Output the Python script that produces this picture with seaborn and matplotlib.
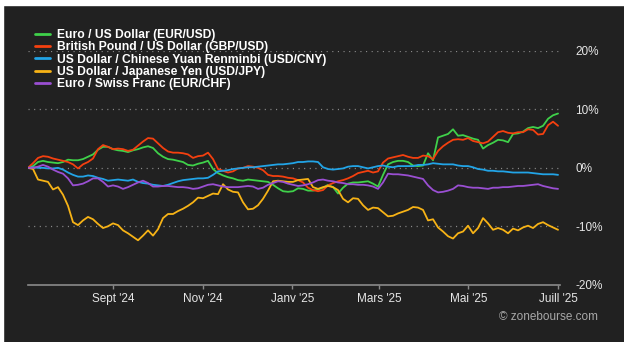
import numpy as np
import pandas as pd
import matplotlib
matplotlib.use("Agg")
import matplotlib.pyplot as plt
import matplotlib.dates as mdates
from matplotlib.lines import Line2D
from matplotlib.patches import Rectangle
import seaborn as sns

# ---------------- data (% change since start) ----------------
start_date = "2024-07-05"
end_date = "2025-07-01"

labels = [
    "Euro / US Dollar (EUR/USD)",
    "British Pound / US Dollar (GBP/USD)",
    "US Dollar / Chinese Yuan Renminbi (USD/CNY)",
    "US Dollar / Japanese Yen (USD/JPY)",
    "Euro / Swiss Franc (EUR/CHF)",
]
colors = ["#3fd14a", "#f5400f", "#22a4e6", "#f7b316", "#9a4fd2"]

eur_usd = [0.0, 0.3, 1.0, 1.2, 1.0, 0.9, 0.8, 1.0, 1.4, 1.3, 1.3, 1.5, 1.9, 2.3, 3.1, 3.6, 3.6, 3.2, 3.0, 2.9,
           2.7, 3.0, 3.2, 3.5, 3.7, 3.4, 2.5, 1.9, 1.5, 1.4, 1.2, 1.0, 0.5, 0.4, 0.7, 0.9, 1.2, -0.2, -0.9, -1.3,
           -1.6, -1.8, -2.1, -2.2, -2.0, -2.1, -2.2, -2.3, -2.4, -2.9, -3.5, -4.0, -4.1, -4.0, -3.5, -3.6, -3.9, -3.9, -3.7, -3.4,
           -2.9, -3.3, -4.4, -3.4, -2.7, -2.5, -2.5, -2.4, -2.3, -2.7, -3.2, -1.2, 0.6, 1.0, 1.2, 1.2, 1.0, 0.4, 0.3, 0.4,
           2.5, 1.3, 5.2, 5.5, 5.8, 6.6, 5.5, 5.6, 5.3, 5.0, 4.8, 3.3, 3.9, 4.3, 4.8, 4.7, 4.4, 5.8, 5.9, 6.2,
           6.8, 7.0, 6.8, 7.2, 8.4, 9.0, 9.3]

gbp_usd = [0.0, 0.8, 1.7, 2.0, 1.9, 1.6, 1.4, 1.2, 1.0, 0.6, -0.1, 0.6, 1.0, 1.6, 3.2, 3.9, 3.6, 3.2, 3.3, 3.2,
           2.9, 3.1, 3.8, 4.5, 5.1, 5.0, 4.2, 3.4, 2.8, 2.6, 2.6, 2.5, 2.3, 1.7, 2.0, 2.1, 2.6, 1.5, -0.2, -0.5,
           -0.8, -0.6, -0.1, 0.0, 0.3, 0.2, 0.0, -0.4, -1.2, -1.4, -1.4, -1.5, -1.7, -1.8, -2.1, -2.5, -3.4, -3.8, -4.0, -3.8,
           -3.0, -2.6, -2.3, -2.1, -1.8, -1.4, -0.9, -0.7, -0.5, -0.8, -0.6, 0.9, 1.6, 1.8, 2.0, 2.2, 1.9, 1.7, 1.7, 2.1,
           2.0, 1.5, 2.9, 3.7, 4.3, 4.8, 4.9, 4.8, 5.1, 4.6, 4.4, 4.2, 4.5, 5.3, 6.1, 6.3, 6.0, 5.9, 6.1, 6.1,
           6.6, 6.5, 5.7, 5.8, 7.3, 7.9, 7.2]

usd_cny = [0.0, 0.1, 0.0, 0.0, -0.1, -0.1, 0.0, -0.3, -0.8, -1.2, -1.5, -1.5, -1.3, -1.4, -1.7, -1.9, -2.2, -2.1, -2.0, -2.1,
           -2.2, -2.0, -2.4, -2.6, -2.7, -2.9, -3.0, -3.1, -2.9, -2.6, -2.3, -2.1, -2.0, -1.9, -1.8, -1.8, -1.7, -1.2, -0.6, -0.5,
           -0.4, -0.2, -0.1, 0.0, 0.1, 0.1, 0.2, 0.3, 0.4, 0.5, 0.6, 0.6, 0.7, 0.8, 1.0, 1.0, 1.1, 1.1, 1.0, 0.1,
           -0.2, -0.3, -0.2, -0.1, 0.2, 0.3, 0.3, 0.1, -0.1, 0.1, 0.3, 0.4, 0.2, 0.1, 0.3, 0.3, 0.3, 0.3, 0.5, 0.5,
           0.6, 0.8, 0.7, 0.6, 0.6, 0.6, 0.4, 0.3, 0.3, 0.1, -0.2, -0.3, -0.5, -0.5, -0.6, -0.6, -0.7, -0.8, -0.8, -0.8,
           -0.8, -0.9, -1.0, -1.1, -1.1, -1.1, -1.2]

usd_jpy = [0.0, -0.2, -2.0, -2.2, -2.4, -3.7, -3.3, -4.6, -6.5, -9.3, -9.8, -9.0, -8.4, -8.8, -9.6, -10.3, -10.0, -9.5, -9.8, -10.7,
           -11.2, -11.8, -12.4, -11.6, -10.7, -11.6, -10.5, -8.6, -7.9, -7.9, -7.4, -7.0, -6.5, -5.9, -5.1, -5.2, -4.8, -4.4, -4.5, -2.8,
           -3.7, -4.1, -4.2, -5.9, -7.1, -7.0, -6.4, -5.3, -3.9, -2.3, -2.2, -2.3, -2.4, -2.4, -2.1, -2.0, -1.9, -3.3, -3.6, -3.3,
           -3.1, -3.3, -3.8, -5.3, -5.9, -5.2, -5.3, -6.4, -7.2, -6.8, -6.9, -7.6, -8.3, -8.2, -7.8, -7.5, -7.2, -6.7, -6.8, -7.2,
           -9.0, -8.8, -10.2, -10.9, -11.7, -12.1, -11.2, -10.9, -9.9, -11.2, -10.3, -8.6, -9.5, -10.6, -10.3, -10.6, -11.2, -10.4, -10.7, -10.2,
           -9.9, -10.3, -9.6, -9.3, -9.8, -10.2, -10.6]

eur_chf = [0.0, 0.0, 0.2, 0.5, 0.2, -0.3, -0.7, -1.0, -1.8, -3.0, -2.9, -2.7, -2.3, -1.8, -1.8, -2.4, -3.2, -3.0, -3.2, -3.6,
           -3.3, -2.9, -2.5, -2.2, -2.6, -3.2, -3.2, -3.1, -3.1, -3.2, -3.3, -3.3, -3.4, -3.6, -3.5, -3.2, -2.9, -2.8, -3.0, -3.2,
           -3.3, -3.3, -3.3, -3.2, -3.1, -3.2, -3.6, -3.4, -2.9, -2.6, -2.3, -2.4, -2.7, -2.9, -3.1, -3.0, -2.8, -2.5, -2.1, -2.0,
           -2.2, -2.3, -2.5, -2.6, -2.8, -2.8, -2.9, -2.9, -3.0, -3.2, -3.6, -2.5, -1.0, -1.1, -1.1, -1.2, -1.3, -1.5, -1.7, -1.9,
           -3.0, -3.8, -4.2, -4.1, -3.9, -3.6, -3.0, -3.1, -3.3, -3.4, -3.4, -3.5, -3.6, -3.4, -3.4, -3.3, -3.3, -3.2, -3.1, -3.1,
           -3.0, -2.9, -2.8, -3.1, -3.3, -3.5, -3.6]

y_ticks = [-20, -10, 0, 10, 20]
y_tick_labels = ["-20%", "-10%", "0%", "10%", "20%"]
x_tick_dates = ["2024-09-01", "2024-11-01", "2025-01-01", "2025-03-01", "2025-05-01", "2025-07-01"]
x_tick_labels = ["Sept '24", "Nov '24", "Janv '25", "Mars '25", "Mai '25", "Juill '25"]
credit = "\u00a9 zonebourse.com"

# ---------------- build table ----------------
series = [eur_usd, gbp_usd, usd_cny, usd_jpy, eur_chf]
n = len(eur_usd)
assert all(len(s) == n for s in series), [len(s) for s in series]
dates = pd.date_range(start_date, end_date, periods=n)
df = pd.concat(
    [pd.DataFrame({"date": dates, "pct": vals, "pair": lab}) for lab, vals in zip(labels, series)],
    ignore_index=True,
)

# ---------------- style ----------------
BG = "#212121"
sns.set_theme(style="dark")
plt.rcParams["font.family"] = ["Liberation Sans", "DejaVu Sans"]

W, H = 624, 342
fig = plt.figure(figsize=(W / 100, H / 100), dpi=100, facecolor=BG)
# thin white margins on top and left, as in the reference
fig.patches.append(Rectangle((0, 1 - 5 / H), 1, 5 / H, transform=fig.transFigure, color="white", zorder=-1))
fig.patches.append(Rectangle((0, 0), 3 / W, 1, transform=fig.transFigure, color="white", zorder=-1))

left, right = 28 / W, 560 / W
top, bottom = 1 - 51 / H, 1 - 284.7 / H
ax = fig.add_axes([left, bottom, right - left, top - bottom])
ax.set_facecolor(BG)

sns.lineplot(data=df, x="date", y="pct", hue="pair", hue_order=labels,
             palette=dict(zip(labels, colors)), linewidth=1.3, legend=False, ax=ax)

ax.set_ylim(-20, 20)
ax.set_xlim(pd.Timestamp(start_date), pd.Timestamp("2025-07-02 08:00"))

# gridlines
for yv in [-10, 0, 10, 20]:
    ax.axhline(yv, color="#8a8a8a", linewidth=0.9, linestyle=(0, (0.9, 3.6)), zorder=0.5)
ax.grid(False)

# y axis on right
ax.yaxis.tick_right()
ax.set_yticks(y_ticks)
ax.set_yticklabels(y_tick_labels)
ax.tick_params(axis="y", length=0, pad=11, labelsize=8.5, labelcolor="#e6e6e6")

# x axis
ax.set_xticks(pd.to_datetime(x_tick_dates))
ax.set_xticklabels(x_tick_labels)
ax.tick_params(axis="x", length=3, width=1, color="#8a8a8a", direction="out", pad=3,
               labelsize=8.5, labelcolor="#e6e6e6", bottom=True)
ax.set_xlabel("")
ax.set_ylabel("")

for s in ["top", "right", "left"]:
    ax.spines[s].set_visible(False)
ax.spines["bottom"].set_color("#8a8a8a")
ax.spines["bottom"].set_linewidth(1.2)

# legend
handles = [Line2D([0], [0], color=c, linewidth=2) for c in colors]
leg = fig.legend(handles, labels, loc="upper left", bbox_to_anchor=(35 / W, 1 - 29 / H),
                 frameon=False, fontsize=8.7, handlelength=1.24, handletextpad=0.58,
                 labelspacing=0.03, borderpad=0, borderaxespad=0)
for t in leg.get_texts():
    t.set_color("white")
    t.set_fontweight("bold")

# credit
fig.text(598 / W, 1 - 317 / H, credit, ha="right", va="center", fontsize=8.5, color="#a8a8a8")

fig.savefig("out.png", dpi=100, facecolor=fig.get_facecolor())
